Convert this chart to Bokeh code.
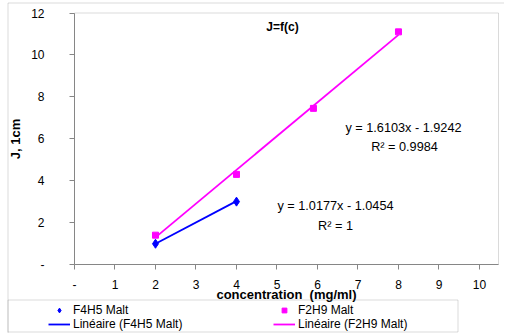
from bokeh.plotting import figure
from bokeh.models import (FixedTicker, Label, Legend, LegendItem, BoxAnnotation, Range1d)
from bokeh.embed import file_html
from bokeh.resources import INLINE

# ---- data ----
f4h5_x = [2, 4]
f4h5_y = [0.99, 3.0]
f2h9_x = [2, 4, 5.9, 8]
f2h9_y = [1.4, 4.3, 7.45, 11.1]

# trendline coefficients shown on the chart
f4h5_slope, f4h5_icpt = 1.0177, -1.0454
f2h9_slope, f2h9_icpt = 1.6103, -1.9242

x_ticks = [0, 1, 2, 3, 4, 5, 6, 7, 8, 9, 10]
y_ticks = [0, 2, 4, 6, 8, 10, 12]
x_max, y_max = 10.47, 12

FONT = "Liberation Sans"
GREY = "#868686"

W, H = 504, 333
# plot-area placement on the canvas (pixels)
PX0, PX1 = 74, 498
PY0, PY1 = 264, 12.5
sx = (PX1 - PX0) / x_max
sy = (PY0 - PY1) / y_max

p = figure(width=W, height=H, output_backend="svg", toolbar_location=None,
           x_range=Range1d(-PX0 / sx, (W - PX0) / sx),
           y_range=Range1d(-(H - PY0) / sy, (PY0) / sy),
           min_border=0, min_border_left=0, min_border_right=0,
           min_border_top=0, min_border_bottom=0)
p.grid.visible = False
p.background_fill_color = "white"
p.border_fill_color = "white"
p.outline_line_color = None

for ax, ticks, bnd in ((p.xaxis[0], x_ticks, (0, x_max)), (p.yaxis[0], y_ticks, (0, y_max))):
    ax.ticker = FixedTicker(ticks=ticks)
    ax.fixed_location = 0
    ax.bounds = bnd
    ax.major_label_overrides = {0: "-"}
    ax.axis_line_color = GREY
    ax.major_tick_line_color = GREY
    ax.major_tick_out = 5
    ax.major_tick_in = 0
    ax.minor_tick_line_color = None
    ax.major_label_text_font = FONT
    ax.major_label_text_font_size = "12px"
    ax.major_label_text_color = "black"
    ax.axis_label_text_font = FONT
    ax.axis_label_text_font_style = "bold"
    ax.axis_label_text_font_size = "13px"
    ax.axis_label_text_color = "black"

p.xaxis.axis_label = "concentration \u00a0(mg/ml)"
p.xaxis.major_label_standoff = 10
p.xaxis.axis_label_standoff = -5
p.yaxis.axis_label = "J, 1cm"
p.yaxis.major_label_standoff = 25
p.yaxis.axis_label_standoff = 5

# plot-area frame (top/right edges) and chart-area border
p.add_layout(BoxAnnotation(left=0, right=x_max, bottom=0, top=y_max,
                           fill_alpha=0, line_color=GREY, line_width=1, level="underlay"))
p.add_layout(BoxAnnotation(left=7.5, right=W + 20, top=2.5, bottom=H + 20,
                           left_units="canvas", right_units="canvas",
                           top_units="canvas", bottom_units="canvas",
                           fill_alpha=0, line_color=GREY, line_width=1))
# legend box
p.add_layout(BoxAnnotation(left=7.5, right=457.5, top=299.5, bottom=331.5,
                           left_units="canvas", right_units="canvas",
                           top_units="canvas", bottom_units="canvas",
                           fill_alpha=0, line_color=GREY, line_width=1))

# trendlines
l1x = [min(f4h5_x), max(f4h5_x)]
l1y = [f4h5_slope * v + f4h5_icpt for v in l1x]
l2x = [min(f2h9_x), max(f2h9_x)]
l2y = [f2h9_slope * v + f2h9_icpt for v in l2x]

r_l1 = p.line(l1x, l1y, line_color="#0000FF", line_width=1.8)
r_l2 = p.line(l2x, l2y, line_color="#FF00FF", line_width=1.8)
r_s1 = p.scatter(f4h5_x, f4h5_y, marker="diamond", size=9, color="#0000FF")
r_s2 = p.scatter(f2h9_x, f2h9_y, marker="square", size=6, color="#FF00FF")

# texts
def lab(cx, cy, t, bold=False, size="12.7px"):
    p.add_layout(Label(x=(cx - PX0) / sx, y=(PY0 - cy) / sy, text=t, text_font=FONT,
                       text_font_size=size,
                       text_font_style="bold" if bold else "normal",
                       text_align="center", text_baseline="middle",
                       text_color="black"))

lab(282, 26, "J=f(c)", bold=True, size="12px")
lab(403, 127, "y = 1.6103x - 1.9242")
lab(404, 146, "R² = 0.9984")
lab(335, 205, "y = 1.0177x - 1.0454")
lab(335, 225, "R² = 1")

def mk_legend(items, loc):
    lg = Legend(items=items, location=loc, orientation="vertical",
                padding=0, spacing=0, margin=0, glyph_width=22, glyph_height=12,
                label_height=12, label_standoff=3,
                label_text_font=FONT, label_text_font_size="12px",
                label_text_color="black", border_line_color=None,
                background_fill_alpha=0)
    p.add_layout(lg, "center")

mk_legend([LegendItem(label="F4H5 Malt", renderers=[r_s1]),
           LegendItem(label="Linéaire (F4H5 Malt)", renderers=[r_l1])], (48, 2.5))
mk_legend([LegendItem(label="F2H9 Malt", renderers=[r_s2]),
           LegendItem(label="Linéaire (F2H9 Malt)", renderers=[r_l2])], (273, 2.5))

open("out.html", "w").write(file_html(p, INLINE))
